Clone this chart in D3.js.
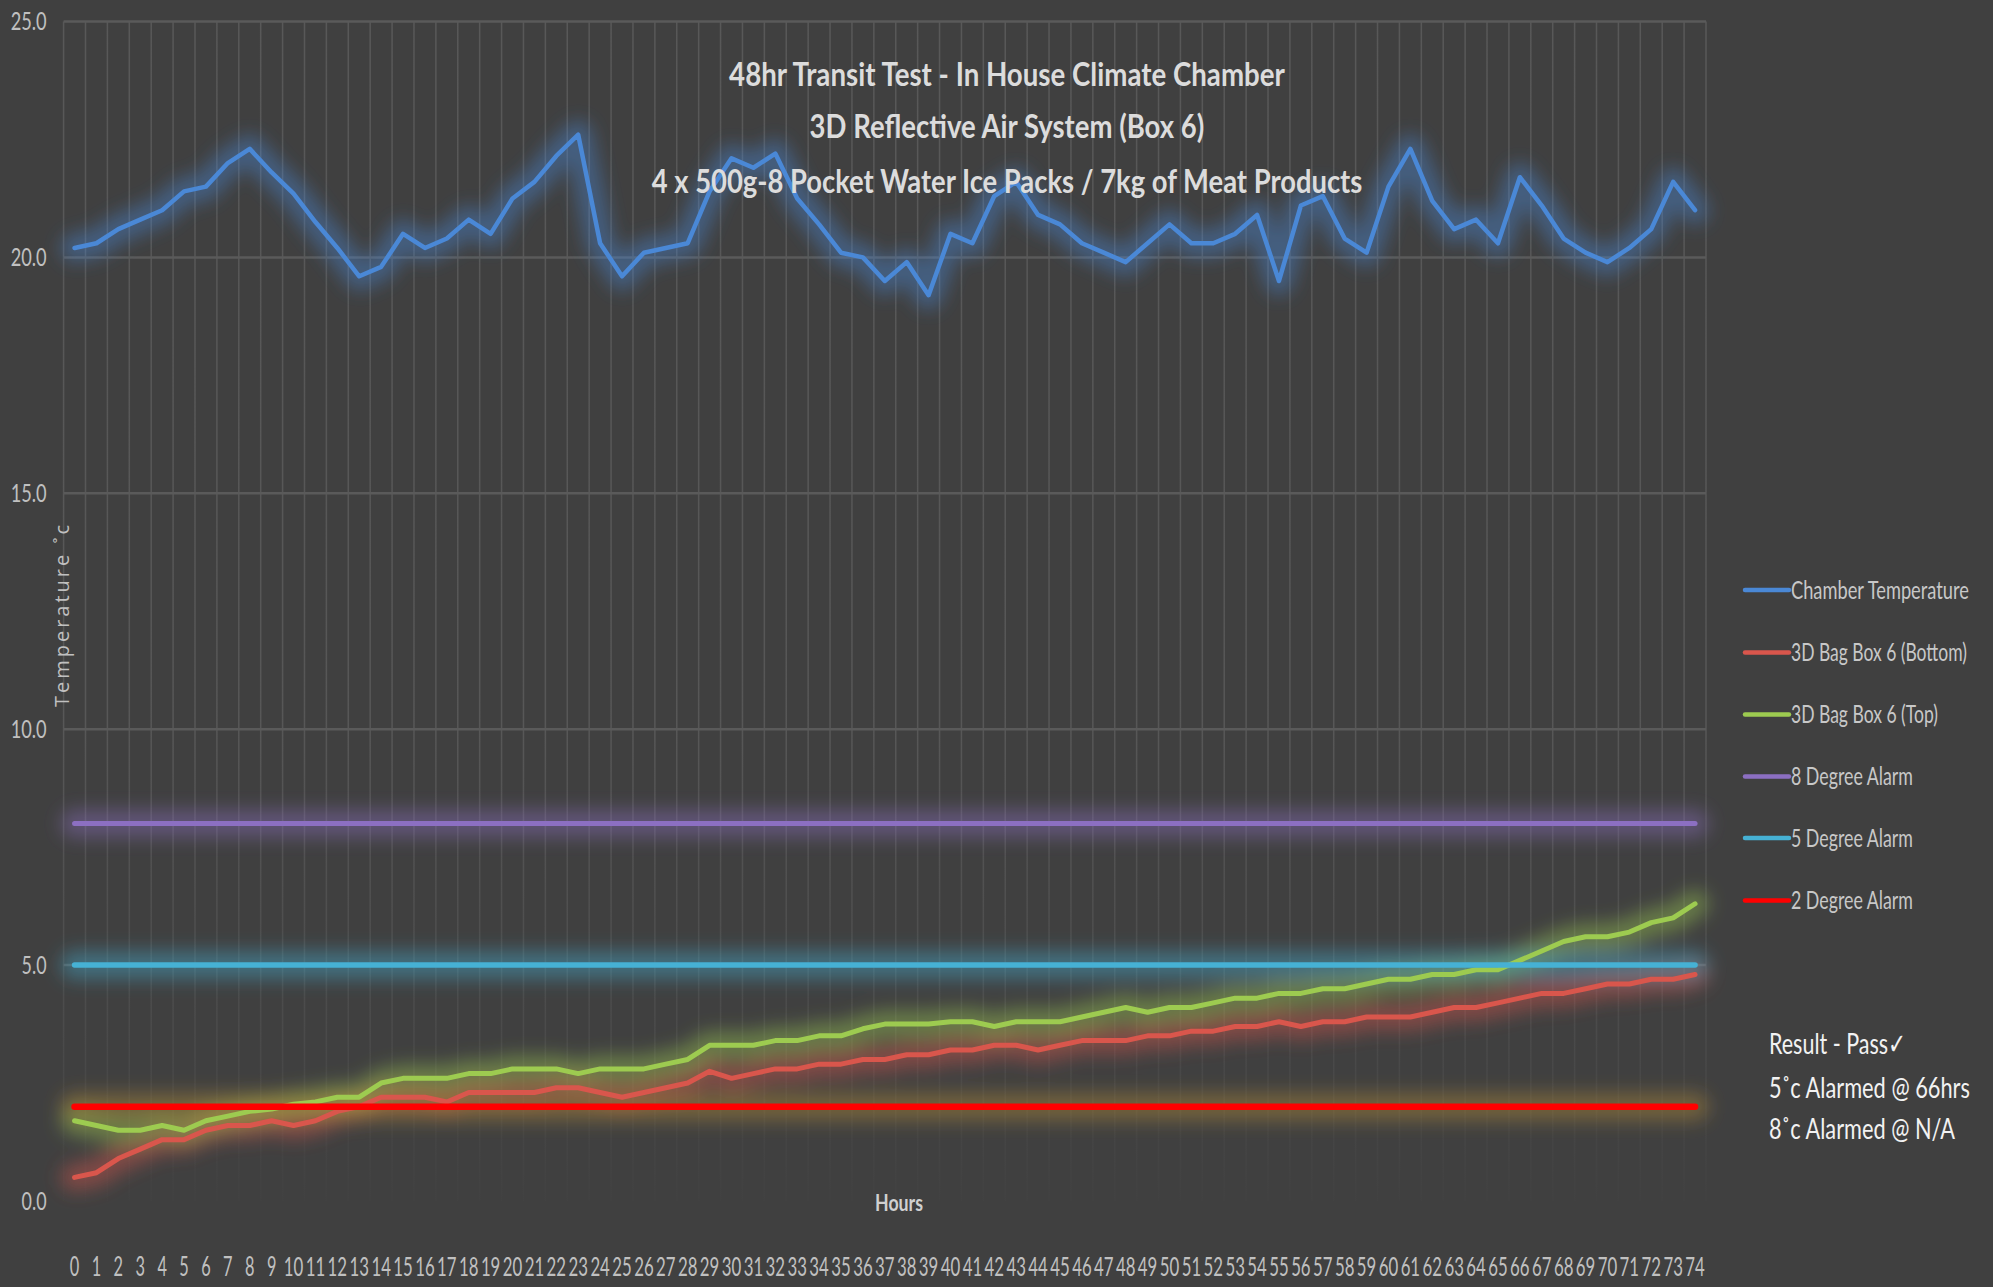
<!DOCTYPE html>
<html><head><meta charset="utf-8">
<script src="https://cdn.jsdelivr.net/npm/d3@7"></script>
<style>
html,body{margin:0;padding:0;background:#404040;}
svg{display:block;}
</style></head>
<body>
<svg id="chart" width="1993" height="1287"></svg>
<script>
// ---------------- DATA ----------------
const hours = [0,1,2,3,4,5,6,7,8,9,10,11,12,13,14,15,16,17,18,19,20,21,22,23,24,25,26,27,28,29,30,31,32,33,34,35,36,37,38,39,40,41,42,43,44,45,46,47,48,49,50,51,52,53,54,55,56,57,58,59,60,61,62,63,64,65,66,67,68,69,70,71,72,73,74];
const chamberTemp = [20.2,20.3,20.6,20.8,21.0,21.4,21.5,22.0,22.3,21.8,
  21.35,20.75,20.2,19.6,19.8,20.5,20.2,20.4,20.8,20.5,
  21.25,21.6,22.15,22.6,20.3,19.6,20.1,20.2,20.3,21.4,
  22.1,21.9,22.2,21.25,20.7,20.1,20.0,19.5,19.9,19.2,
  20.5,20.3,21.3,21.6,20.9,20.7,20.3,20.1,19.9,20.3,
  20.7,20.3,20.3,20.5,20.9,19.5,21.1,21.3,20.4,20.1,
  21.5,22.3,21.2,20.6,20.8,20.3,21.7,21.1,20.4,20.1,
  19.9,20.2,20.6,21.6,21.0];
const bagBottom = [0.5,0.6,0.9,1.1,1.3,1.3,1.5,1.6,1.6,1.7,
  1.6,1.7,1.9,2.0,2.2,2.2,2.2,2.1,2.3,2.3,
  2.3,2.3,2.4,2.4,2.3,2.2,2.3,2.4,2.5,2.75,
  2.6,2.7,2.8,2.8,2.9,2.9,3.0,3.0,3.1,3.1,
  3.2,3.2,3.3,3.3,3.2,3.3,3.4,3.4,3.4,3.5,
  3.5,3.6,3.6,3.7,3.7,3.8,3.7,3.8,3.8,3.9,
  3.9,3.9,4.0,4.1,4.1,4.2,4.3,4.4,4.4,4.5,
  4.6,4.6,4.7,4.7,4.8];
const bagTop = [1.7,1.6,1.5,1.5,1.6,1.5,1.7,1.8,1.9,1.95,
  2.05,2.1,2.2,2.2,2.5,2.6,2.6,2.6,2.7,2.7,
  2.8,2.8,2.8,2.7,2.8,2.8,2.8,2.9,3.0,3.3,
  3.3,3.3,3.4,3.4,3.5,3.5,3.65,3.75,3.75,3.75,
  3.8,3.8,3.7,3.8,3.8,3.8,3.9,4.0,4.1,4.0,
  4.1,4.1,4.2,4.3,4.3,4.4,4.4,4.5,4.5,4.6,
  4.7,4.7,4.8,4.8,4.9,4.9,5.1,5.3,5.5,5.6,
  5.6,5.7,5.9,6.0,6.3];
const alarm8 = 8;
const alarm5 = 5;
const alarm2 = 2;
const yTickValues = [0,5,10,15,20,25];
const seriesNames = ["Chamber Temperature","3D Bag Box 6 (Bottom)","3D Bag Box 6 (Top)","8 Degree Alarm","5 Degree Alarm","2 Degree Alarm"];
const titleLines = ["48hr Transit Test - In House Climate Chamber","3D Reflective Air System (Box 6)","4 x 500g-8 Pocket Water Ice Packs / 7kg of Meat Products"];
const resultLines = ["Result - Pass\u2713","5\u02DAc Alarmed @ 66hrs","8\u02DAc Alarmed @ N/A"];
const yAxisTitle = "Temperature \u02DAc";
const xAxisTitle = "Hours";

// ---------------- STYLE / LAYOUT ----------------
const colors = ["#4a88d6","#d9564c","#9dcb50","#8c6fc2","#46b1d4","#ff0000"];
const glowColors = ["#4a88d6","#d9564c","#9dcb50","#8c6fc2","#46b1d4","#b8903a"];
const widths = [4.5,5,5,5,5.5,6.5];
const FONT = "Lato, 'Open Sans', sans-serif";
const plot = {left:63.6, right:1706, top:21.5, bottom:1201};

const svg = d3.select("#chart");
svg.append("rect").attr("width",1993).attr("height",1287).attr("fill","#404040");

const defs = svg.append("defs");
defs.append("filter").attr("id","glow").attr("filterUnits","userSpaceOnUse")
  .attr("x",0).attr("y",0).attr("width",1993).attr("height",1287)
  .append("feGaussianBlur").attr("stdDeviation",9);
const gridGrad = defs.append("linearGradient").attr("id","vgrid")
  .attr("gradientUnits","userSpaceOnUse").attr("x1",0).attr("x2",0)
  .attr("y1",plot.top).attr("y2",plot.bottom);
[[0,1],[0.6,0.95],[0.85,0.45],[1,0.05]].forEach(([o,a]) =>
  gridGrad.append("stop").attr("offset",o).attr("stop-color","#585858").attr("stop-opacity",a));

const x = d3.scaleBand().domain(hours).range([plot.left, plot.right]).paddingInner(0).paddingOuter(0);
const xc = h => x(h) + x.bandwidth()/2;
const y = d3.scaleLinear().domain([0,25]).range([plot.bottom, plot.top]);

// horizontally squeeze a text to a target width (about its anchor x)
function fit(sel, w){
  sel.each(function(){
    const t = d3.select(this);
    const n = this.getComputedTextLength();
    if (!n) return;
    const k = w / n;
    const ox = +t.attr("x") || 0;
    const prev = t.attr("transform") || "";
    t.attr("transform", `${prev} translate(${ox},0) scale(${k},1) translate(${-ox},0)`);
  });
}

// gridlines
const grid = svg.append("g");
grid.selectAll("line.v").data(hours.concat(["end"])).join("line")
  .attr("x1", d => d==="end" ? plot.right : x(d))
  .attr("x2", d => d==="end" ? plot.right : x(d))
  .attr("y1", plot.top).attr("y2", plot.bottom)
  .attr("stroke","url(#vgrid)").attr("stroke-width",1.5);
grid.selectAll("line.h").data(yTickValues.filter(v => v > 0)).join("line")
  .attr("x1", plot.left).attr("x2", plot.right)
  .attr("y1", d => y(d)).attr("y2", d => y(d))
  .attr("stroke","#5a5a5a").attr("stroke-width",2.5);

// series definitions
const line = d3.line().x(d => xc(d[0])).y(d => y(d[1]));
const series = [
  hours.map((h,i) => [h, chamberTemp[i]]),
  hours.map((h,i) => [h, bagBottom[i]]),
  hours.map((h,i) => [h, bagTop[i]]),
  [[hours[0], alarm8],[hours[hours.length-1], alarm8]],
  [[hours[0], alarm5],[hours[hours.length-1], alarm5]],
  [[hours[0], alarm2],[hours[hours.length-1], alarm2]]
];

// glows
const glowG = svg.append("g").attr("filter","url(#glow)");
series.forEach((s,i) => {
  glowG.append("path").attr("d", line(s)).attr("fill","none")
    .attr("stroke", glowColors[i]).attr("stroke-width", 28)
    .attr("stroke-opacity", 0.42)
    .attr("stroke-linejoin","round").attr("stroke-linecap","round");
});
// lines
series.forEach((s,i) => {
  svg.append("path").attr("d", line(s)).attr("fill","none")
    .attr("stroke", colors[i]).attr("stroke-width", widths[i])
    .attr("stroke-linejoin","round").attr("stroke-linecap","round");
});

// y axis
const yAxis = svg.append("g").attr("transform",`translate(${plot.left},0)`)
  .call(d3.axisLeft(y).tickValues(yTickValues).tickFormat(d3.format(".1f")).tickSize(0).tickPadding(17));
yAxis.select(".domain").remove();
yAxis.selectAll("text").attr("fill","#c0c0c0").attr("font-size",25).attr("font-family",FONT)
  .each(function(d){ fit(d3.select(this), d>=10 ? 36 : 25); });

// x axis
const xAxis = svg.append("g").attr("transform",`translate(0,${plot.bottom})`)
  .call(d3.axisBottom(x).tickSize(0).tickPadding(57));
xAxis.select(".domain").remove();
xAxis.selectAll("text").attr("fill","#c0c0c0").attr("font-size",26).attr("font-family",FONT)
  .each(function(d){ fit(d3.select(this), String(d).length>1 ? 19.5 : 9.5); });

// titles
const titleW = [556, 395, 711];
const titleY = [86, 138, 193];
titleLines.forEach((t,i) => {
  svg.append("text").attr("x",1007).attr("y",titleY[i]).attr("text-anchor","middle")
    .attr("font-family",FONT).attr("font-size",32).attr("font-weight",700)
    .attr("fill","#dcdcdc").text(t).call(fit, titleW[i]);
});

// axis titles
svg.append("text").attr("x",899).attr("y",1211).attr("text-anchor","middle")
  .attr("font-family",FONT).attr("font-size",23).attr("font-weight",700)
  .attr("fill","#d0d0d0").text(xAxisTitle).call(fit, 48);
svg.append("text").attr("transform","translate(69,616) rotate(-90)").attr("text-anchor","middle")
  .attr("font-family","'Open Sans', sans-serif").attr("font-size",20)
  .attr("fill","#c0c0c0").text(yAxisTitle)
  .attr("textLength",182).attr("lengthAdjust","spacing");

// legend
const legW = [178, 176, 147, 122, 122, 122];
const legY = [590, 652.5, 714.5, 776.5, 838, 900.5];
seriesNames.forEach((n,i) => {
  svg.append("line").attr("x1",1745).attr("x2",1789).attr("y1",legY[i]).attr("y2",legY[i])
    .attr("stroke",colors[i]).attr("stroke-width",4.5).attr("stroke-linecap","round");
  svg.append("text").attr("x",1791).attr("y",legY[i]+9).attr("font-family",FONT)
    .attr("font-size",25).attr("fill","#c8c8c8").text(n).call(fit, legW[i]);
});

// result text
const resW = [137, 201, 186];
const resY = [1054, 1098, 1139];
resultLines.forEach((t,i) => {
  svg.append("text").attr("x",1769).attr("y",resY[i]).attr("font-family",FONT)
    .attr("font-size",29).attr("fill","#f2f2f2").text(t).call(fit, resW[i]);
});
</script>
</body></html>
